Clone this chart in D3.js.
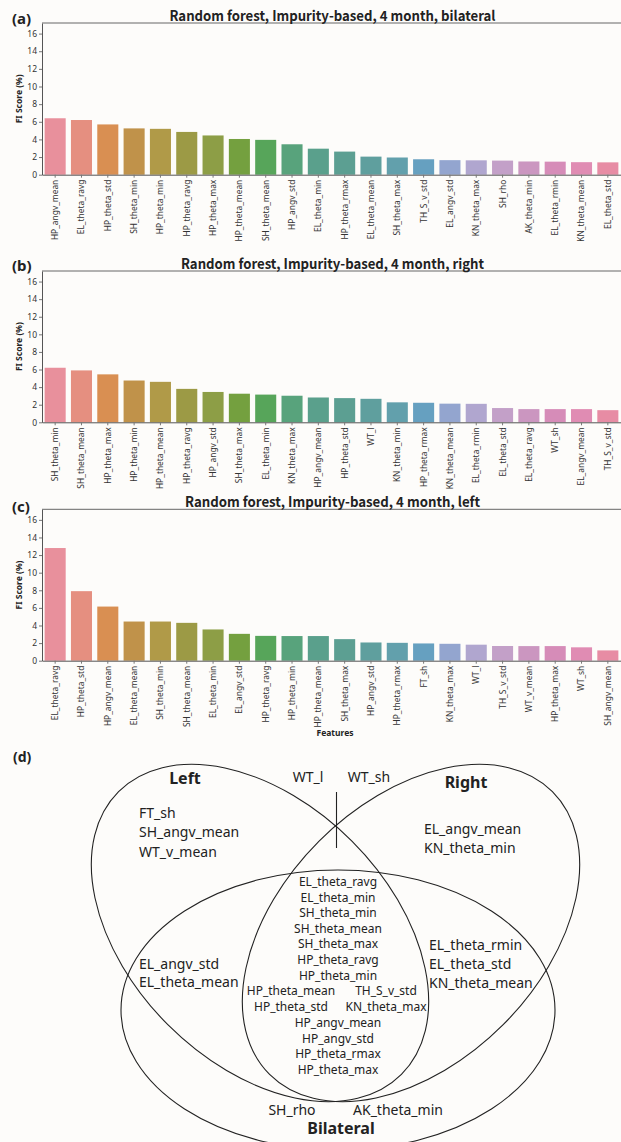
<!DOCTYPE html>
<html>
<head>
<meta charset="utf-8">
<script src="https://cdn.jsdelivr.net/npm/d3@7"></script>
<style>
body { margin: 0; background: #fdfcfa; }
svg { display: block; }
</style>
</head>
<body>
<script>
"use strict";

// (a) bilateral
var featA = ["HP_angv_mean", "EL_theta_ravg", "HP_theta_std", "SH_theta_min", "HP_theta_min",
    "HP_theta_ravg", "HP_theta_max", "HP_theta_mean", "SH_theta_mean", "HP_angv_std",
    "EL_theta_min", "HP_theta_rmax", "EL_theta_mean", "SH_theta_max", "TH_S_v_std",
    "EL_angv_std", "KN_theta_max", "SH_rho", "AK_theta_min", "EL_theta_rmin",
    "KN_theta_mean", "EL_theta_std"];
var valA = [6.4, 6.2, 5.7, 5.25, 5.2, 4.85, 4.45, 4.05, 3.95, 3.45, 2.95, 2.62, 2.05, 1.95,
    1.75, 1.65, 1.63, 1.6, 1.5, 1.48, 1.42, 1.4];

// (b) right
var featB = ["SH_theta_min", "SH_theta_mean", "HP_theta_max", "HP_theta_min", "HP_theta_mean",
    "HP_theta_ravg", "HP_angv_std", "SH_theta_max", "EL_theta_min", "KN_theta_max",
    "HP_angv_mean", "HP_theta_std", "WT_l", "KN_theta_min", "HP_theta_rmax",
    "KN_theta_mean", "EL_theta_rmin", "EL_theta_std", "EL_theta_ravg", "WT_sh",
    "EL_angv_mean", "TH_S_v_std"];
var valB = [6.2, 5.9, 5.45, 4.75, 4.6, 3.8, 3.45, 3.25, 3.15, 3.02, 2.82, 2.75, 2.67, 2.27,
    2.22, 2.12, 2.1, 1.62, 1.5, 1.5, 1.5, 1.38];

// (c) left
var featC = ["EL_theta_ravg", "HP_theta_std", "HP_angv_mean", "EL_theta_mean", "SH_theta_min",
    "SH_theta_mean", "EL_theta_min", "EL_angv_std", "HP_theta_ravg", "HP_theta_min",
    "HP_theta_mean", "SH_theta_max", "HP_angv_std", "HP_theta_rmax", "FT_sh",
    "KN_theta_max", "WT_l", "TH_S_v_std", "WT_v_mean", "HP_theta_max", "WT_sh",
    "SH_angv_mean"];
var valC = [12.8, 7.9, 6.15, 4.45, 4.45, 4.3, 3.55, 3.05, 2.82, 2.8, 2.8, 2.45, 2.07, 2.03,
    1.96, 1.92, 1.82, 1.67, 1.66, 1.66, 1.52, 1.17];

var yTicks = [0, 2, 4, 6, 8, 10, 12, 14, 16];

// (d) venn groups
var leftOnly = ["FT_sh", "SH_angv_mean", "WT_v_mean"];
var rightOnly = ["EL_angv_mean", "KN_theta_min"];
var leftRight = ["WT_l", "WT_sh"];
var leftBilat = ["EL_angv_std", "EL_theta_mean"];
var rightBilat = ["EL_theta_rmin", "EL_theta_std", "KN_theta_mean"];
var bilatOnly = ["SH_rho", "AK_theta_min"];
var coreTop = ["EL_theta_ravg", "EL_theta_min", "SH_theta_min", "SH_theta_mean",
    "SH_theta_max", "HP_theta_ravg", "HP_theta_min"];
var corePairL = ["HP_theta_mean", "HP_theta_std"];
var corePairR = ["TH_S_v_std", "KN_theta_max"];
var coreBottom = ["HP_angv_mean", "HP_angv_std", "HP_theta_rmax", "HP_theta_max"];

// seaborn-like husl colours, desaturated
var palette = ["#e8909c", "#e58f80", "#d98f52", "#c0924a", "#b09a48", "#9c9a45", "#8d9e46",
    "#74a03f", "#57a55a", "#58a37c", "#5aa08c", "#5c9f92", "#5f9f9e", "#62a0ac", "#66a0c0",
    "#93a5cf", "#b0a6cf", "#c3a0c8", "#cb96c0", "#d68cb8", "#e08cb3", "#e78ca4"];

var W = 621, H = 1142;
var sans = "'Noto Sans', sans-serif";
var narrow = "'Noto Sans CJK KR', 'Noto Sans', sans-serif";

var svg = d3.select("body").append("svg")
    .attr("width", W)
    .attr("height", H);

svg.append("rect").attr("width", W).attr("height", H).attr("fill", "#fdfcfa");

var panels = [
    {letter: "(a)", title: "Random forest, Impurity-based, 4 month, bilateral",
        feats: featA, vals: valA, top: 23, bottom: 174.7, tw: 326, letterY: 24},
    {letter: "(b)", title: "Random forest, Impurity-based, 4 month, right",
        feats: featB, vals: valB, top: 271, bottom: 422.3, tw: 303, letterY: 271},
    {letter: "(c)", title: "Random forest, Impurity-based, 4 month, left",
        feats: featC, vals: valC, top: 509.3, bottom: 660.7, tw: 295, letterY: 512, xlabel: true}
];

panels.forEach(drawBars);
drawVenn();

function drawBars(p) {
    var left = 42, right = 621,
        g = svg.append("g"),
        x, y;

    x = d3.scaleBand()
        .domain(p.feats)
        .range([left, right])
        .paddingInner(0.2)
        .paddingOuter(0.1);
    y = d3.scaleLinear()
        .domain([0, 17.2])
        .range([p.bottom, p.top]);

    g.selectAll("rect.bar")
        .data(p.vals)
        .enter().append("rect")
        .attr("class", "bar")
        .attr("x", function (d, i) { return x(p.feats[i]); })
        .attr("width", x.bandwidth())
        .attr("y", function (d) { return y(d); })
        .attr("height", function (d) { return y(0) - y(d); })
        .attr("fill", function (d, i) { return palette[i]; });

    var ya = g.append("g")
        .attr("transform", "translate(" + left + ",0)")
        .call(d3.axisLeft(y).tickValues(yTicks).tickSize(3).tickSizeOuter(0).tickPadding(2));
    ya.selectAll("text")
        .attr("font-family", sans)
        .attr("font-size", 8.5)
        .attr("fill", "#333");

    var xa = g.append("g")
        .attr("transform", "translate(0," + p.bottom + ")")
        .call(d3.axisBottom(x).tickSize(3).tickSizeOuter(0));
    xa.selectAll("text")
        .attr("transform", "rotate(-90)")
        .attr("text-anchor", "end")
        .attr("x", -5)
        .attr("y", 0)
        .attr("dy", "0.35em")
        .attr("font-family", sans)
        .attr("font-size", 8.4)
        .attr("fill", "#333");

    g.selectAll(".domain").attr("stroke", "#555");
    g.selectAll(".tick line").attr("stroke", "#777");

    // top spine, no right spine (cut by the frame)
    g.append("line")
        .attr("x1", left).attr("x2", right)
        .attr("y1", p.top).attr("y2", p.top)
        .attr("stroke", "#666");

    g.append("text")
        .attr("transform", "translate(22," + (p.top + p.bottom) / 2 + ") rotate(-90)")
        .attr("text-anchor", "middle")
        .attr("font-family", sans)
        .attr("font-weight", "bold")
        .attr("font-size", 8.5)
        .attr("fill", "#222")
        .text("FI Score (%)");

    g.append("text")
        .attr("x", (left + right) / 2 + 1)
        .attr("y", p.top - 2.5)
        .attr("text-anchor", "middle")
        .attr("font-family", narrow)
        .attr("font-weight", "bold")
        .attr("font-size", 14)
        .attr("textLength", p.tw)
        .attr("lengthAdjust", "spacingAndGlyphs")
        .attr("fill", "#222")
        .text(p.title);

    g.append("text")
        .attr("x", 12)
        .attr("y", p.letterY)
        .attr("font-family", sans)
        .attr("font-weight", "bold")
        .attr("font-size", 15)
        .attr("fill", "#222")
        .text(p.letter);

    if (p.xlabel) {
        g.append("text")
            .attr("x", 335)
            .attr("y", 736)
            .attr("text-anchor", "middle")
            .attr("font-family", sans)
            .attr("font-weight", "bold")
            .attr("font-size", 8.5)
            .attr("fill", "#222")
            .text("Features");
    }
}

function drawVenn() {
    var g = svg.append("g"),
        ink = "#222";

    g.append("text")
        .attr("x", 13).attr("y", 762)
        .attr("font-family", sans).attr("font-weight", "bold")
        .attr("font-size", 14).attr("fill", ink)
        .text("(d)");

    var shapes = [
        {cx: 260, cy: 933, rx: 200, ry: 130, rot: 45},
        {cx: 411, cy: 933, rx: 200, ry: 130, rot: -45},
        {cx: 338, cy: 1010, rx: 217, ry: 140, rot: 0}
    ];
    g.selectAll("ellipse")
        .data(shapes)
        .enter().append("ellipse")
        .attr("cx", 0).attr("cy", 0)
        .attr("rx", function (d) { return d.rx; })
        .attr("ry", function (d) { return d.ry; })
        .attr("transform", function (d) {
            return "translate(" + d.cx + "," + d.cy + ") rotate(" + d.rot + ")";
        })
        .attr("fill", "none")
        .attr("stroke", ink)
        .attr("stroke-width", 1.1);

    g.append("line")
        .attr("x1", 336.5).attr("x2", 336.5)
        .attr("y1", 792).attr("y2", 848)
        .attr("stroke", ink).attr("stroke-width", 1.1);

    function block(list, x, y0, step, size, anchor, weight) {
        g.selectAll(null)
            .data(list)
            .enter().append("text")
            .attr("x", x)
            .attr("y", function (d, i) { return y0 + i * step; })
            .attr("dy", "0.35em")
            .attr("text-anchor", anchor)
            .attr("font-family", sans)
            .attr("font-weight", weight || "normal")
            .attr("font-size", size)
            .attr("fill", ink)
            .text(function (d) { return d; });
    }

    block(["Left"], 185, 778, 0, 16, "middle", "bold");
    block(["Right"], 466, 782, 0, 16, "middle", "bold");
    block(["Bilateral"], 341, 1128, 0, 16, "middle", "bold");

    block([leftRight[0]], 308, 777, 0, 14, "middle");
    block([leftRight[1]], 369, 777, 0, 14, "middle");
    block(leftOnly, 139, 813, 19.5, 14, "start");
    block(rightOnly, 424, 829, 19, 14, "start");
    block(leftBilat, 139, 964, 18.5, 14, "start");
    block(rightBilat, 429, 945, 19, 14, "start");
    block([bilatOnly[0]], 292, 1110, 0, 14, "middle");
    block([bilatOnly[1]], 398, 1110, 0, 14, "middle");

    block(coreTop, 338, 882, 15.55, 12, "middle");
    block(corePairL, 291, 991, 15.7, 12, "middle");
    block(corePairR, 386, 991, 15.7, 12, "middle");
    block(coreBottom, 338, 1023, 15.5, 12, "middle");
}
</script>
</body>
</html>
